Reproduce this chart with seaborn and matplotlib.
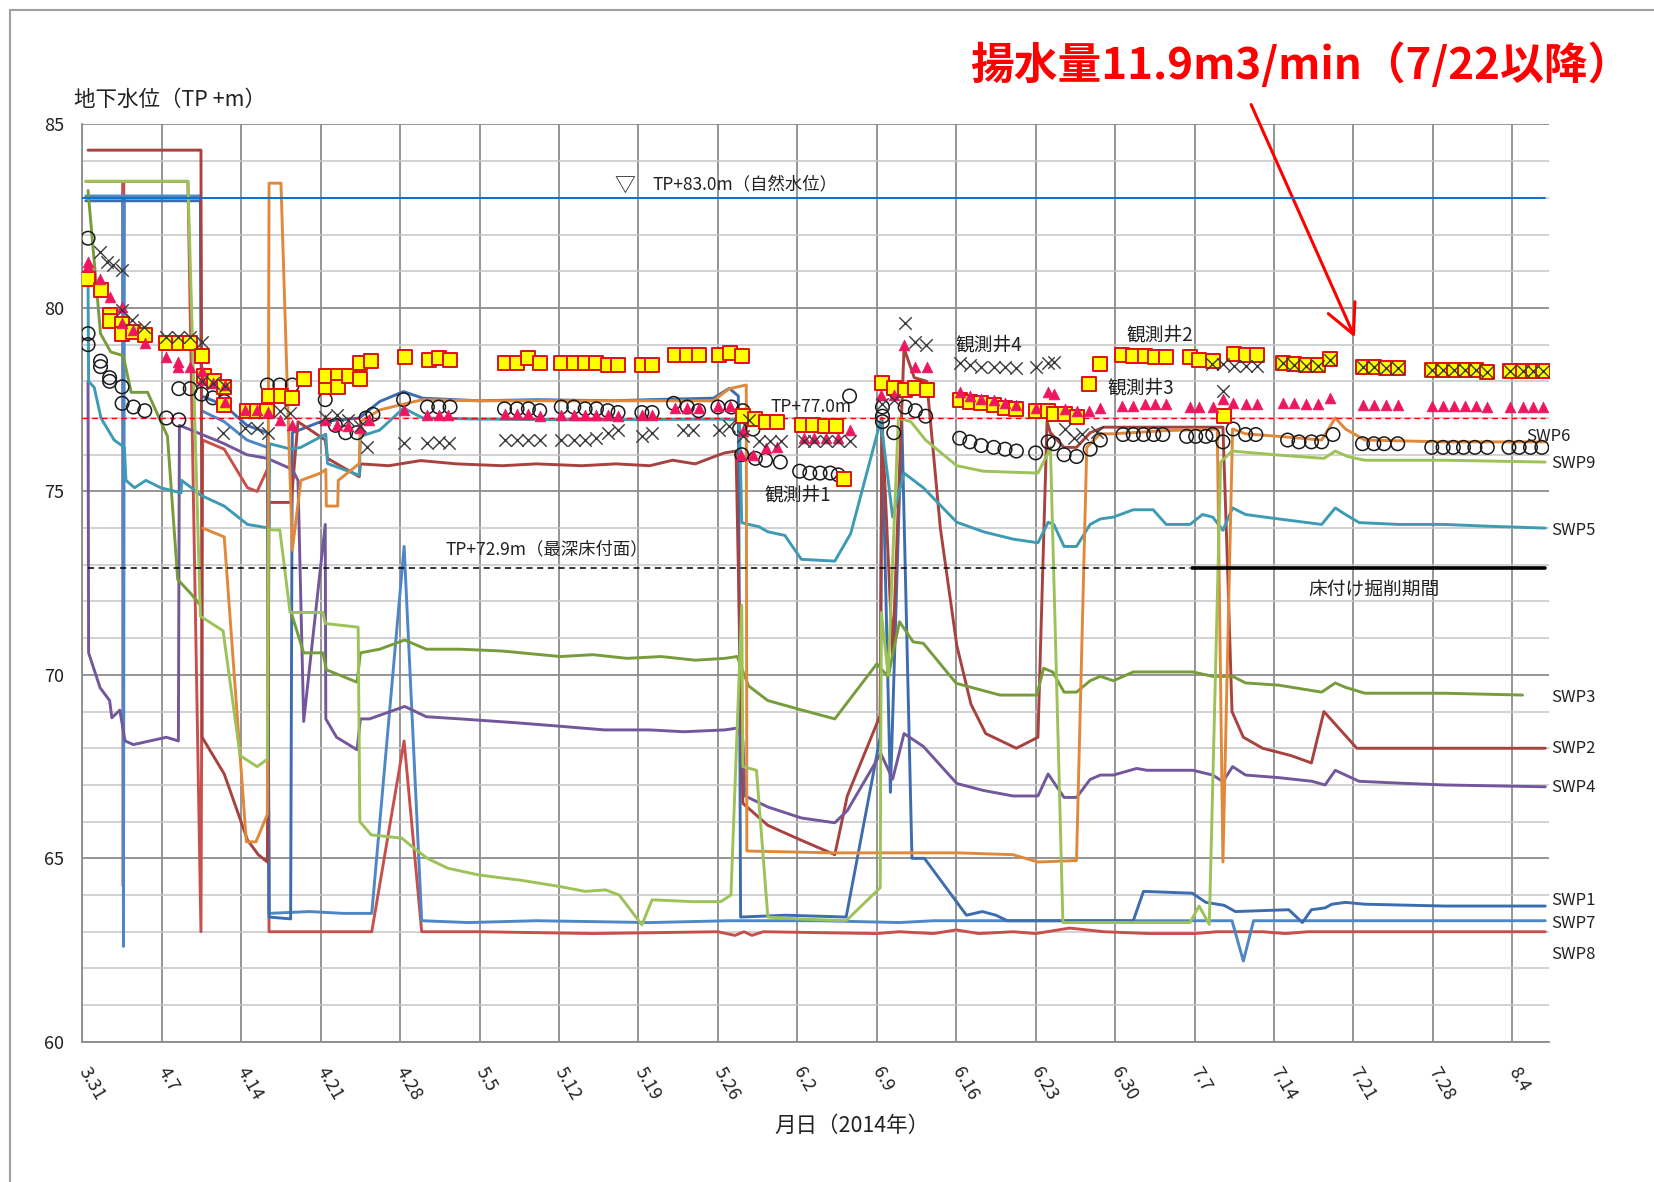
import numpy as np
import pandas as pd
import matplotlib
matplotlib.use('Agg')
import matplotlib.pyplot as plt
from matplotlib.patches import Rectangle
import seaborn as sns

# day 0 = 2014-03-31
tick_days = list(range(0, 127, 7))
tick_labels = ['3.31', '4.7', '4.14', '4.21', '4.28', '5.5', '5.12', '5.19', '5.26', '6.2',
               '6.9', '6.16', '6.23', '6.30', '7.7', '7.14', '7.21', '7.28', '8.4']

# SWP water levels (day, TP+m); None = break in line
swp1 = [(0.3, 82.92), (10.4, 82.92), (10.5, 77.6), (12.5, 77.35), (14.5, 76.8), (16.3, 76.6), (16.45, 63.4),
        (18.35, 63.35), (18.5, 76.6), (21.0, 76.9), (24.4, 77.0), (26.2, 77.45), (28.3, 77.72), (30.0, 77.54),
        (35.0, 77.47), (40.0, 77.5), (46.8, 77.47), (50.0, 77.5), (55.6, 77.54), (57.0, 77.81), (57.8, 77.6),
        (58.0, 63.4), (62.0, 63.45), (67.3, 63.4), (70.3, 68.3), (70.45, 76.9), (71.2, 66.8), (72.2, 77.0),
        (73.1, 65.0), (74.2, 65.0), (77.9, 63.45), (79.3, 63.55), (80.5, 63.45), (81.5, 63.3), (92.6, 63.3),
        (93.5, 64.1), (97.8, 64.05), (99.0, 63.8), (100.6, 63.72), (101.6, 63.55), (106.3, 63.6), (107.5, 63.25),
        (108.3, 63.6), (109.5, 63.65), (110.1, 63.75), (111.3, 63.8), (113.0, 63.75), (120.0, 63.7), (128.9, 63.7)]
swp2 = [(0.5, 84.3), (10.45, 84.3), (10.55, 68.3), (12.5, 67.3), (14.55, 65.5), (15.5, 65.1), (16.3, 64.9),
        (16.45, 74.7), (18.4, 74.7), (19.0, 76.9), (21.4, 76.4), (21.6, 75.9), (24.4, 75.4), (24.5, 75.75),
        (27.0, 75.7), (29.8, 75.84), (33.0, 75.75), (37.0, 75.7), (40.0, 75.75), (44.0, 75.7), (47.0, 75.75),
        (50.0, 75.7), (52.0, 75.85), (54.0, 75.75), (55.7, 75.95), (56.6, 76.05), (57.6, 76.1), (58.2, 66.5),
        (60.4, 65.9), (63.3, 65.5), (66.3, 65.1), (67.4, 66.7), (70.3, 68.9), (70.45, 77.0), (71.4, 70.5),
        (72.4, 78.9), (73.3, 78.1), (74.4, 78.0), (75.6, 74.0), (77.05, 70.8), (78.3, 69.2), (79.6, 68.4),
        (82.3, 68.0), (84.2, 68.3), (85.0, 76.9), (85.3, 76.6), (86.5, 76.2), (87.6, 76.2), (88.8, 76.6),
        (90.0, 76.75), (100.5, 76.75), (100.9, 73.0), (101.3, 69.0), (102.3, 68.3), (104.0, 68.0),
        (106.5, 67.8), (108.3, 67.6), (109.4, 69.0), (112.3, 68.0), (128.9, 68.0)]
swp3 = [(0.5, 83.2), (1.6, 79.3), (2.5, 78.8), (3.6, 78.7), (4.3, 77.7), (5.75, 77.7), (7.5, 76.5), (8.4, 72.6),
        (9.6, 72.2), (10.4, 71.9), None,
        (18.4, 71.7), (19.5, 70.6), (21.2, 70.6), (21.5, 70.14), (24.2, 69.8), (24.5, 70.6), (26.2, 70.7),
        (28.4, 70.95), (30.3, 70.7), (33.3, 70.7), (37.0, 70.65), (42.1, 70.5), (45.0, 70.55), (48.0, 70.45),
        (51.0, 70.5), (54.0, 70.4), (56.6, 70.45), (57.7, 70.5), (58.7, 69.7), (60.4, 69.3), (63.3, 69.05),
        (66.3, 68.8), (70.0, 70.3), (71.0, 69.95), (72.0, 71.45), (73.2, 70.9), (74.1, 70.86), (77.0, 69.77),
        (80.85, 69.45), (84.1, 69.45), (84.7, 70.18), (85.5, 70.08), (86.5, 69.53), (87.6, 69.53), (88.8, 69.84),
        (89.7, 69.96), (90.85, 69.84), (92.6, 70.08), (97.85, 70.08), (99.6, 69.96), (101.35, 69.96),
        (102.5, 69.78), (105.4, 69.72), (109.2, 69.53), (110.4, 69.78), (111.3, 69.66), (113.0, 69.5),
        (120.0, 69.5), (126.9, 69.45)]
swp4 = [(0.5, 78.0), (0.55, 70.6), (1.56, 69.65), (2.4, 69.3), (2.6, 68.83), (3.3, 69.04), (3.76, 68.2),
        (4.5, 68.1), (7.4, 68.3), (8.46, 68.2), (8.55, 76.8), (10.15, 76.6), (12.5, 76.3), (14.5, 76.0),
        (16.3, 75.9), (18.5, 75.6), (19.0, 75.3), (19.5, 68.73), (21.4, 74.1), (21.45, 68.8), (22.4, 68.3),
        (24.2, 67.96), (24.5, 68.8), (25.3, 68.8), (28.4, 69.14), (30.3, 68.86), (33.3, 68.8), (38.0, 68.7),
        (42.1, 68.6), (46.0, 68.5), (50.0, 68.5), (53.0, 68.45), (56.6, 68.5), (57.7, 68.55), (58.2, 68.2),
        (58.4, 66.7), (60.4, 66.4), (63.35, 66.1), (66.3, 65.97), (67.4, 66.3), (70.35, 67.86), (71.4, 67.16),
        (72.4, 68.4), (74.1, 68.05), (77.05, 67.04), (79.4, 66.85), (82.0, 66.7), (84.2, 66.7), (85.1, 67.3),
        (86.5, 66.66), (87.6, 66.66), (88.8, 67.15), (89.7, 67.27), (90.85, 67.27), (92.9, 67.45),
        (93.8, 67.4), (97.85, 67.4), (99.6, 67.27), (100.5, 67.09), (101.35, 67.5), (102.5, 67.27),
        (105.4, 67.2), (108.35, 67.1), (109.5, 67.0), (110.4, 67.4), (111.3, 67.27), (112.5, 67.1),
        (116.0, 67.05), (120.0, 67.0), (128.9, 66.95)]
swp5 = [(0.5, 80.7), (0.55, 78.0), (1.05, 77.83), (1.64, 77.0), (2.8, 76.4), (3.7, 76.2), (3.84, 75.3),
        (4.6, 75.1), (5.6, 75.3), (6.9, 75.1), (8.7, 74.96), (8.75, 75.3), (9.6, 75.1), (10.4, 74.9),
        (12.5, 74.6), (14.55, 74.1), (16.45, 74.0), (16.5, 76.3), (18.4, 76.15), (19.25, 76.2), (21.45, 76.56),
        (21.6, 75.76), (24.4, 75.44), (24.5, 76.5), (26.2, 76.67), (28.3, 77.27), (30.0, 77.0), (35.0, 76.97),
        (45.0, 76.95), (56.0, 76.97), (57.9, 76.95), (58.1, 74.15), (58.7, 74.1), (59.6, 74.04), (60.4, 73.9),
        (61.9, 73.8), (63.35, 73.15), (66.3, 73.1), (67.7, 73.85), (70.35, 76.94), (71.4, 74.3), (72.4, 75.5),
        (74.1, 75.1), (77.05, 74.16), (79.4, 73.9), (82.0, 73.7), (84.2, 73.6), (85.1, 74.16), (85.6, 74.1),
        (86.5, 73.5), (87.6, 73.5), (88.8, 74.1), (89.7, 74.25), (90.85, 74.3), (92.6, 74.5), (94.35, 74.5),
        (95.5, 74.1), (97.6, 74.1), (98.7, 74.37), (99.6, 74.3), (100.5, 73.94), (101.35, 74.55),
        (102.5, 74.37), (105.4, 74.25), (109.2, 74.1), (110.4, 74.55), (111.3, 74.37), (112.5, 74.15),
        (116.0, 74.1), (120.0, 74.1), (124.0, 74.05), (128.9, 74.0)]
swp6 = [(10.6, 74.0), (12.5, 73.76), (14.45, 65.45), (15.3, 65.45), (16.3, 66.2), (16.45, 83.4), (17.5, 83.4),
        (18.5, 73.4), (19.25, 75.3), (21.0, 75.5), (21.45, 75.6), (21.5, 74.6), (22.5, 74.6), (22.55, 75.3),
        (24.4, 75.76), (24.5, 76.9), (26.2, 77.22), (28.3, 77.38), (30.0, 77.5), (35.0, 77.47), (45.0, 77.47),
        (55.6, 77.47), (57.0, 77.8), (58.5, 77.9), (58.55, 65.2), (66.0, 65.15), (77.05, 65.15), (82.0, 65.1),
        (84.2, 64.9), (87.6, 64.94), (88.5, 76.2), (89.7, 76.57), (90.85, 76.57), (95.0, 76.65), (100.0, 76.7),
        (100.5, 64.9), (101.35, 76.7), (102.5, 76.57), (105.4, 76.5), (109.2, 76.4), (110.4, 77.0),
        (111.3, 76.7), (113.0, 76.4), (120.0, 76.35), (128.9, 76.35)]
swp7 = [(0.3, 83.05), (3.55, 83.05), (3.62, 62.6), (3.7, 83.05), (10.4, 83.05), (10.5, 77.2), (12.5, 76.9),
        (14.5, 76.4), (16.3, 76.2), (16.45, 63.5), (20.0, 63.55), (23.0, 63.5), (25.5, 63.5), (28.35, 73.5),
        (29.9, 63.3), (34.0, 63.25), (40.0, 63.3), (50.0, 63.25), (57.0, 63.3), (65.0, 63.3), (72.0, 63.25),
        (75.0, 63.3), (85.0, 63.3), (101.3, 63.3), (102.3, 62.2), (103.2, 63.3), (128.9, 63.3)]
swp8 = [(0.3, 83.45), (3.55, 83.45), (3.6, 64.25), (3.65, 83.45), (9.3, 83.45), (10.45, 63.0), (10.6, 76.4),
        (12.5, 76.15), (14.55, 75.1), (15.4, 75.0), (16.3, 75.6), (16.45, 63.0), (25.5, 63.0), (28.35, 68.2),
        (29.9, 63.0), (35.0, 63.0), (45.0, 62.95), (56.0, 63.0), (57.5, 62.9), (58.3, 63.0), (59.0, 62.9),
        (60.0, 63.0), (70.0, 62.95), (72.0, 63.0), (75.0, 62.95), (77.0, 63.05), (79.0, 62.95), (82.0, 63.0),
        (84.0, 62.95), (87.0, 63.1), (90.0, 63.0), (94.0, 62.95), (98.0, 62.95), (100.0, 63.0), (104.0, 63.0),
        (106.0, 62.95), (108.0, 63.0), (128.9, 63.0)]
swp9 = [(0.3, 83.45), (9.3, 83.45), (10.4, 71.6), (12.4, 71.2), (13.9, 67.8), (15.4, 67.5), (16.3, 67.7),
        (16.4, 73.95), (17.4, 73.95), (18.3, 71.7), (21.2, 71.7), (21.4, 71.4), (24.3, 71.3), (24.45, 66.0),
        (25.45, 65.64), (28.15, 65.55), (29.05, 65.32), (30.4, 65.0), (32.2, 64.73), (34.9, 64.55),
        (37.1, 64.46), (38.5, 64.41), (40.3, 64.32), (42.1, 64.23), (44.3, 64.1), (46.1, 64.14), (47.3, 64.0),
        (49.3, 63.19), (50.2, 63.87), (53.8, 63.82), (56.25, 63.82), (57.15, 64.0), (58.1, 71.9), (58.2, 67.5),
        (59.4, 67.4), (60.4, 63.4), (63.0, 63.35), (67.3, 63.3), (70.3, 64.2), (70.4, 71.7), (71.0, 70.0),
        (71.9, 77.0), (73.0, 76.9), (74.3, 76.4), (77.05, 75.7), (79.4, 75.55), (84.2, 75.5), (85.1, 76.05),
        (85.3, 76.2), (86.4, 63.25), (97.6, 63.25), (98.4, 63.7), (99.3, 63.2), (100.3, 75.8), (101.3, 76.1),
        (105.0, 76.0), (109.4, 75.9), (110.4, 76.1), (111.5, 75.95), (113.0, 75.85), (120.0, 75.85),
        (128.9, 75.8)]

# observation wells (markers only)
well1 = [(0.5, 81.9), (0.5, 79.3), (0.5, 79.0), (1.6, 78.55), (1.6, 78.4), (2.4, 78.1), (2.4, 78.0), (3.5, 77.85),
         (3.5, 77.4), (4.5, 77.3), (5.5, 77.2), (7.4, 77.0), (8.5, 76.95), (8.5, 77.8), (9.5, 77.8), (10.5, 77.65),
         (11.5, 77.55), (12.5, 77.45), (16.3, 77.9), (17.4, 77.9), (18.5, 77.9), (21.4, 77.5), (22.3, 76.8),
         (23.2, 76.6), (24.2, 76.6), (25.0, 77.0), (25.6, 77.1), (28.3, 77.5), (30.4, 77.3), (31.4, 77.3),
         (32.4, 77.3), (37.2, 77.25), (38.3, 77.25), (39.3, 77.25), (40.3, 77.2), (42.2, 77.3), (43.3, 77.3),
         (44.3, 77.25), (45.3, 77.25), (46.3, 77.2), (47.2, 77.15), (49.3, 77.15), (50.2, 77.15), (52.1, 77.4),
         (53.3, 77.3), (54.3, 77.2), (56.0, 77.3), (57.2, 77.3), (58.2, 77.2), (57.9, 76.7), (59.1, 76.7),
         (58.1, 76.0), (59.3, 75.9), (60.2, 75.85), (61.5, 75.8), (63.2, 75.55), (64.1, 75.5), (65.0, 75.5),
         (65.9, 75.5), (66.6, 75.45), (67.6, 77.6), (70.5, 77.3), (70.5, 77.05), (70.5, 76.9), (71.5, 76.6),
         (72.5, 77.3), (73.4, 77.2), (74.3, 77.05), (77.3, 76.45), (78.2, 76.35), (79.2, 76.25), (80.3, 76.2),
         (81.3, 76.15), (82.3, 76.1), (84.0, 76.05), (85.1, 76.35), (85.6, 76.3), (86.5, 76.0), (87.6, 75.95),
         (88.8, 76.15), (89.7, 76.4), (91.7, 76.55), (92.6, 76.55), (93.5, 76.55), (94.4, 76.55), (95.2, 76.55),
         (97.3, 76.5), (98.1, 76.5), (99.0, 76.5), (99.6, 76.55), (100.5, 76.35), (101.4, 76.7), (102.5, 76.55),
         (103.4, 76.55), (106.2, 76.4), (107.2, 76.35), (108.3, 76.35), (109.2, 76.35), (110.2, 76.55),
         (112.8, 76.3), (113.8, 76.3), (114.7, 76.3), (115.9, 76.3), (118.9, 76.2), (119.9, 76.2), (120.8, 76.2),
         (121.7, 76.2), (122.7, 76.2), (123.8, 76.2), (125.7, 76.2), (126.6, 76.2), (127.6, 76.2), (128.6, 76.2)]
well2 = [(0.5, 80.8), (1.6, 80.5), (2.4, 79.8), (2.4, 79.65), (3.5, 79.55), (3.5, 79.3), (4.5, 79.35), (5.5, 79.25),
         (7.4, 79.05), (8.5, 79.05), (9.5, 79.05), (10.5, 78.7), (10.7, 78.15), (11.6, 78.0), (12.5, 77.85),
         (12.5, 77.35), (14.5, 77.2), (15.4, 77.2), (16.3, 77.2), (16.45, 77.6), (17.5, 77.6), (18.5, 77.55),
         (19.5, 78.05), (21.45, 77.85), (21.45, 78.15), (22.5, 78.15), (22.5, 77.85), (23.5, 78.15), (24.5, 78.05),
         (24.5, 78.5), (25.4, 78.55), (28.4, 78.67), (30.5, 78.58), (31.4, 78.63), (32.4, 78.58), (37.2, 78.5),
         (38.3, 78.5), (39.3, 78.63), (40.3, 78.5), (42.2, 78.5), (43.3, 78.5), (44.3, 78.5), (45.3, 78.5),
         (46.3, 78.45), (47.2, 78.45), (49.3, 78.45), (50.2, 78.45), (52.2, 78.72), (53.3, 78.72), (54.3, 78.72),
         (56.1, 78.72), (57.1, 78.77), (58.1, 78.68), (58.2, 77.05), (59.3, 76.97), (60.2, 76.9), (61.2, 76.88),
         (63.4, 76.8), (64.4, 76.8), (65.4, 76.77), (66.4, 76.77), (67.1, 75.35), (70.5, 77.95), (71.5, 77.82),
         (72.5, 77.76), (73.4, 77.82), (74.4, 77.76), (77.3, 77.5), (78.2, 77.44), (79.2, 77.4), (80.3, 77.35),
         (81.3, 77.28), (82.3, 77.25), (84.0, 77.19), (85.1, 77.19), (85.6, 77.12), (86.6, 77.12), (87.6, 77.04),
         (88.7, 77.92), (89.7, 78.47), (91.6, 78.71), (92.6, 78.68), (93.6, 78.68), (94.5, 78.65), (95.5, 78.65),
         (97.6, 78.65), (98.4, 78.59), (99.6, 78.55), (100.6, 77.06), (101.5, 78.75), (102.5, 78.71),
         (103.5, 78.71), (105.8, 78.5), (106.8, 78.47), (107.8, 78.45), (108.9, 78.45), (109.9, 78.6),
         (112.8, 78.4), (113.8, 78.4), (114.9, 78.35), (115.9, 78.35), (118.9, 78.3), (119.9, 78.3), (120.9, 78.3),
         (121.8, 78.3), (122.8, 78.3), (123.8, 78.25), (125.8, 78.28), (126.9, 78.28), (127.8, 78.28),
         (128.7, 78.28)]
well3 = [(0.5, 81.26), (0.5, 81.13), (1.56, 80.8), (2.4, 80.3), (3.47, 80.03), (3.47, 79.58), (4.5, 79.4),
         (5.5, 79.04), (7.4, 78.67), (8.46, 78.54), (8.46, 78.4), (9.5, 78.4), (10.5, 78.27), (10.5, 78.04),
         (11.5, 77.95), (12.6, 77.9), (12.6, 77.45), (14.3, 77.22), (15.4, 77.22), (16.4, 77.17), (17.4, 76.95),
         (18.45, 76.8), (21.4, 76.95), (22.4, 76.81), (23.4, 76.77), (24.5, 76.72), (25.3, 76.95), (28.3, 77.22),
         (30.35, 77.08), (31.4, 77.08), (32.25, 77.08), (37.2, 77.1), (38.3, 77.1), (39.3, 77.1), (40.3, 77.05),
         (42.2, 77.08), (43.3, 77.08), (44.3, 77.08), (45.3, 77.08), (46.3, 77.08), (47.2, 77.05), (49.3, 77.08),
         (50.2, 77.08), (52.2, 77.27), (53.25, 77.27), (54.3, 77.27), (56.0, 77.33), (57.1, 77.33), (58.2, 76.64),
         (58.0, 75.99), (59.1, 75.99), (60.2, 76.18), (61.2, 76.2), (63.6, 76.45), (64.5, 76.45), (65.5, 76.45),
         (66.6, 76.45), (67.6, 76.68), (70.35, 77.63), (71.5, 77.63), (72.4, 79.0), (73.4, 78.4), (74.4, 78.39),
         (77.3, 77.7), (78.2, 77.6), (79.2, 77.53), (80.3, 77.48), (81.3, 77.4), (82.3, 77.35), (84.0, 77.28),
         (85.1, 77.7), (85.6, 77.65), (86.6, 77.24), (87.6, 77.18), (88.7, 77.18), (89.7, 77.28), (91.6, 77.33),
         (92.6, 77.33), (93.6, 77.37), (94.5, 77.37), (95.5, 77.37), (97.6, 77.3), (98.4, 77.3), (99.6, 77.3),
         (100.5, 77.53), (101.35, 77.4), (102.5, 77.37), (103.5, 77.37), (105.8, 77.4), (106.8, 77.4),
         (107.8, 77.37), (108.9, 77.37), (109.9, 77.55), (112.8, 77.36), (113.8, 77.36), (114.9, 77.36),
         (115.9, 77.36), (118.9, 77.33), (119.9, 77.33), (120.9, 77.33), (121.8, 77.33), (122.8, 77.33),
         (123.8, 77.3), (125.8, 77.3), (126.9, 77.3), (127.8, 77.3), (128.7, 77.3)]
well4 = [(1.56, 81.53), (2.15, 81.26), (2.7, 81.17), (3.47, 81.04), (3.47, 79.95), (4.35, 79.67), (5.4, 79.49),
         (7.4, 79.22), (8.46, 79.22), (9.5, 79.22), (10.5, 79.08), (10.5, 78.0), (11.5, 77.95), (12.6, 77.86),
         (12.4, 76.6), (14.3, 76.72), (15.4, 76.72), (16.4, 76.6), (17.4, 77.2), (18.3, 77.13), (21.4, 77.04),
         (22.4, 77.08), (23.4, 76.95), (24.5, 76.77), (25.1, 76.22), (28.3, 76.33), (30.4, 76.33), (31.4, 76.36),
         (32.3, 76.33), (37.2, 76.4), (38.3, 76.4), (39.3, 76.4), (40.3, 76.4), (42.2, 76.4), (43.3, 76.4),
         (44.3, 76.4), (45.3, 76.45), (46.3, 76.59), (47.2, 76.68), (49.3, 76.5), (50.2, 76.59), (52.9, 76.68),
         (53.8, 76.68), (56.1, 76.68), (57.0, 76.77), (58.2, 76.5), (58.7, 76.94), (59.6, 76.37), (60.6, 76.37),
         (61.6, 76.37), (63.6, 76.37), (64.5, 76.37), (65.5, 76.37), (66.6, 76.37), (67.6, 76.37), (70.5, 77.38),
         (71.5, 77.48), (72.5, 79.58), (73.4, 79.08), (74.3, 79.0), (77.3, 78.5), (78.2, 78.45), (79.2, 78.39),
         (80.3, 78.39), (81.3, 78.39), (82.3, 78.36), (84.0, 78.39), (85.1, 78.5), (85.6, 78.53), (86.6, 76.7),
         (87.4, 76.45), (88.1, 76.57), (89.4, 76.63), (99.5, 78.47), (100.5, 77.73), (100.5, 78.47),
         (101.5, 78.41), (102.5, 78.41), (103.5, 78.41), (105.8, 78.5), (106.8, 78.45), (107.8, 78.42),
         (108.9, 78.42), (109.9, 78.58), (112.8, 78.38), (113.8, 78.38), (114.9, 78.35), (115.9, 78.35),
         (118.9, 78.3), (119.9, 78.3), (120.9, 78.3), (121.8, 78.3), (122.8, 78.3), (123.8, 78.25),
         (125.8, 78.28), (126.9, 78.28), (127.8, 78.28), (128.7, 78.28)]

swp_names = ['SWP8', 'SWP7', 'SWP1', 'SWP2', 'SWP4', 'SWP3', 'SWP5', 'SWP6', 'SWP9']
swp_series = {'SWP1': swp1, 'SWP2': swp2, 'SWP3': swp3, 'SWP4': swp4, 'SWP5': swp5,
              'SWP6': swp6, 'SWP7': swp7, 'SWP8': swp8, 'SWP9': swp9}
swp_colors = {'SWP1': '#3D6DAE', 'SWP2': '#A8423F', 'SWP3': '#779C3C', 'SWP4': '#73579B',
              'SWP5': '#3D9BB3', 'SWP6': '#E0893A', 'SWP7': '#4F86C6', 'SWP8': '#C8504C',
              'SWP9': '#9CC258'}
# label positions at right end (day, level)
swp_labels = {'SWP6': (127.2, 76.5), 'SWP9': (129.4, 75.75), 'SWP5': (129.4, 73.94), 'SWP3': (129.4, 69.37),
              'SWP2': (129.4, 67.99), 'SWP4': (129.4, 66.93), 'SWP1': (129.4, 63.85), 'SWP7': (129.4, 63.22),
              'SWP8': (129.4, 62.39)}

rows = []
for name, pts in swp_series.items():
    seg = 0
    for p in pts:
        if p is None:
            seg += 1
            continue
        rows.append((name, seg, p[0], p[1]))
df = pd.DataFrame(rows, columns=['well', 'seg', 'day', 'level'])

sns.set_style('white')
plt.rcParams['font.family'] = ['Noto Sans CJK JP', 'DejaVu Sans']

fig = plt.figure(figsize=(16.54, 11.82), dpi=100)
ax = fig.add_axes([0.0498, 0.1186, 0.8865, 0.7761])

sns.lineplot(data=df, x='day', y='level', hue='well', units='seg', estimator=None, sort=False,
             hue_order=swp_names, palette=swp_colors, linewidth=2.1, legend=False, ax=ax, zorder=3)

def xy(pts):
    a = np.array(pts)
    return a[:, 0], a[:, 1]

x, y = xy(well1)
sns.scatterplot(x=x, y=y, marker='o', s=95, facecolors='none', edgecolors='#1a1a1a', linewidth=1.1, ax=ax, zorder=5)
x, y = xy(well2)
sns.scatterplot(x=x, y=y, marker='s', s=95, facecolors='#FFFF00', edgecolors='#E01010', linewidth=1.4, ax=ax, zorder=6)
x, y = xy(well3)
sns.scatterplot(x=x, y=y, marker='^', s=60, color='#EE1660', edgecolor='#EE1660', linewidth=0.5, ax=ax, zorder=7)
x, y = xy(well4)
sns.scatterplot(x=x, y=y, marker='x', s=80, color='#3a3a3a', linewidth=1.0, ax=ax, zorder=8)

# reference levels
ax.plot([0, 128.9], [83.0, 83.0], color='#0A72C8', lw=1.4, zorder=4)
ax.plot([0, 128.9], [77.0, 77.0], color='#FF0000', lw=1.0, ls=(0, (4, 3)), zorder=4)
ax.plot([0.5, 97.6], [72.9, 72.9], color='black', lw=1.1, ls=(0, (4, 3)), zorder=4)
ax.plot([97.8, 128.9], [72.9, 72.9], color='black', lw=2.6, zorder=4)

ax.set_xlim(0, 129.2)
ax.set_ylim(60, 85)
ax.set_xticks(tick_days)
ax.set_xticklabels(tick_labels, rotation=-60, ha='left', va='center', rotation_mode='anchor', fontsize=13, color='#222222')
ax.set_yticks(range(60, 86, 5))
ax.set_yticks(range(60, 86), minor=True)
ax.tick_params(axis='y', which='major', labelsize=13, length=7, width=1.2, color='#8C8C8C', direction='out', pad=6, labelcolor='#222222')
ax.tick_params(axis='y', which='minor', length=0)
ax.tick_params(axis='x', which='major', length=6, width=1.2, color='#8C8C8C', direction='out', pad=13)
ax.grid(which='major', axis='both', color='#8C8C8C', lw=1.3)
ax.grid(which='minor', axis='y', color='#C6C6C6', lw=1.1)
ax.set_axisbelow(True)
for s in ['top', 'right']:
    ax.spines[s].set_visible(False)
for s in ['left', 'bottom']:
    ax.spines[s].set_color('#8C8C8C')
    ax.spines[s].set_linewidth(1.3)
ax.set_xlabel('')
ax.set_ylabel('')

# annotations
ax.text(47.8, 83.33, '▽', fontsize=15, ha='center', va='center', color='#222222')
ax.text(50.2, 83.33, 'TP+83.0m（自然水位）', fontsize=12.5, ha='left', va='center', color='#222222')
ax.text(60.6, 77.3, 'TP+77.0m', fontsize=12.5, ha='left', va='center', color='#222222')
ax.text(32.0, 73.42, 'TP+72.9m（最深床付面）', fontsize=12.5, ha='left', va='center', color='#222222')
ax.text(113.8, 72.3, '床付け掘削期間', fontsize=13.5, ha='center', va='center', color='#222222')
ax.text(76.9, 78.99, '観測井4', fontsize=13.5, ha='left', va='center', color='#222222')
ax.text(92.0, 79.25, '観測井2', fontsize=13.5, ha='left', va='center', color='#222222')
ax.text(90.3, 77.82, '観測井3', fontsize=13.5, ha='left', va='center', color='#222222')
ax.text(60.1, 74.9, '観測井1', fontsize=13.5, ha='left', va='center', color='#222222')
for name, (lx, ly) in swp_labels.items():
    ax.text(lx, ly, name, fontsize=12, ha='left', va='center', color='#222222', clip_on=False)

fig.text(74 / 1654, 1 - 100 / 1182, '地下水位（TP +m）', fontsize=15.5, ha='left', va='center', color='#222222')
fig.text(852 / 1654, 1 - 1126 / 1182, '月日（2014年）', fontsize=15.5, ha='center', va='center', color='#222222')
fig.text(970 / 1654, 1 - 65 / 1182, '揚水量11.9m3/min（7/22以降）', fontsize=31.5, fontweight='bold',
         color='#FF0000', ha='left', va='center')
ax.annotate('', xy=(1356, 842), xytext=(1250, 1080), xycoords='figure pixels', textcoords='figure pixels',
            arrowprops=dict(arrowstyle='->,head_length=0.7,head_width=0.35', color='#FF0000', lw=2.2,
                            mutation_scale=30))

fig.add_artist(Rectangle((10 / 1654, -0.1), 1.2, 1.1 - 10 / 1182, transform=fig.transFigure,
                         fill=False, edgecolor='#A0A0A0', lw=1.5))

fig.savefig('out.png', dpi=100)
